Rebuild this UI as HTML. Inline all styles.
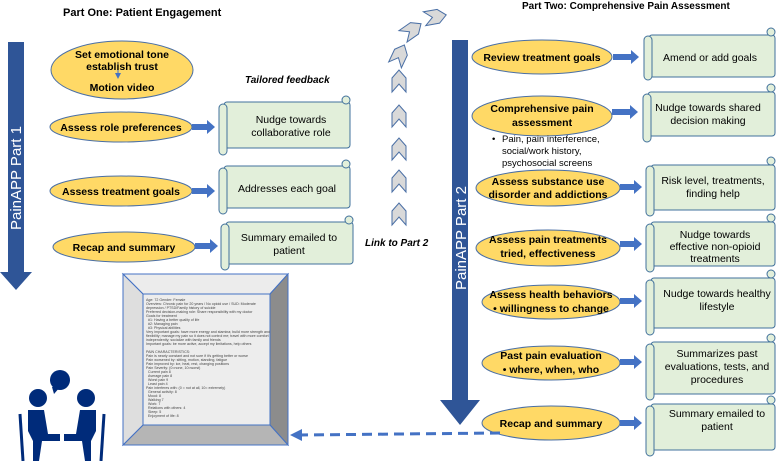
<!DOCTYPE html><html><head><style>body{margin:0;background:#fff}svg{display:block}text{font-family:"Liberation Sans",sans-serif}</style></head><body>
<svg width="780" height="461" viewBox="0 0 780 461" xmlns="http://www.w3.org/2000/svg">
<defs>
<marker id="ah" markerWidth="6" markerHeight="6" refX="4" refY="3" orient="auto"><path d="M0,0L6,3L0,6z" fill="#4472c4"/></marker>
<g id="chev"><path d="M0,8 L7,0 L14,8 L14,22 L7,14 L0,22Z" fill="#d9d9d9" stroke="#4a6fa5" stroke-width="1"/></g>
</defs>
<text x="63" y="16" font-size="11" font-weight="bold">Part One: Patient Engagement</text>
<text x="522" y="9" font-size="10" font-weight="bold">Part Two: Comprehensive Pain Assessment</text>
<path d="M8,42H24V272H32L16,290L0,272H8Z" fill="#2f5597"/>
<text transform="translate(21,230) rotate(-90)" font-size="15" fill="#fff">PainAPP  Part 1</text>
<path d="M452,40H468V400H480L460,425L440,400H452Z" fill="#2f5597"/>
<text transform="translate(466,290) rotate(-90)" font-size="15" fill="#fff">PainAPP  Part 2</text>
<g stroke="#4a6fa5" stroke-width="1" fill="#ffd966">
<ellipse cx="122" cy="70" rx="71" ry="29"/>
<ellipse cx="121" cy="127" rx="71" ry="15"/>
<ellipse cx="121" cy="191" rx="71" ry="15"/>
<ellipse cx="124" cy="247" rx="71" ry="15"/>
<ellipse cx="542" cy="57" rx="70" ry="17"/>
<ellipse cx="542" cy="116" rx="70" ry="20"/>
<ellipse cx="548" cy="188" rx="72" ry="18"/>
<ellipse cx="548" cy="248" rx="72" ry="18"/>
<ellipse cx="551" cy="302" rx="69" ry="17"/>
<ellipse cx="551" cy="363" rx="69" ry="17"/>
<ellipse cx="551" cy="423" rx="69" ry="17"/>
</g>
<line x1="118" y1="64" x2="118" y2="77" stroke="#4472c4" stroke-width="1" marker-end="url(#ah)"/>
<g font-size="10.5" font-weight="bold" text-anchor="middle">
<text x="122" y="58">Set emotional tone</text><text x="122" y="70">establish trust</text><text x="122" y="91">Motion video</text>
<text x="121" y="131">Assess role preferences</text>
<text x="121" y="195">Assess treatment goals</text>
<text x="124" y="251">Recap and summary</text>
<text x="542" y="61">Review treatment goals</text>
<text x="542" y="112">Comprehensive pain</text><text x="542" y="126">assessment</text>
<text x="548" y="185">Assess substance use</text><text x="548" y="198">disorder and addictions</text>
<text x="548" y="243">Assess pain treatments</text><text x="548" y="257">tried, effectiveness</text>
<text x="551" y="298">Assess health behaviors</text><text x="551" y="312">•   willingness to change</text>
<text x="551" y="359">Past pain evaluation</text><text x="551" y="373">•   where, when, who</text>
<text x="551" y="427">Recap and summary</text>
</g>
<g font-size="9.5"><text x="492" y="142">•</text><text x="502" y="142">Pain, pain  interference,</text><text x="502" y="154">social/work history,</text><text x="502" y="166">psychosocial screens</text></g>
<text x="245" y="83" font-size="10" font-weight="bold" font-style="italic">Tailored feedback</text>
<text x="365" y="246" font-size="10" font-weight="bold" font-style="italic">Link to Part 2</text>
<g fill="#4472c4">
<path d="M192,124h15v-4l8,7l-8,7v-4h-15z"/><path d="M192,188h15v-4l8,7l-8,7v-4h-15z"/><path d="M195,243h15v-4l8,7l-8,7v-4h-15z"/>
<path d="M613,54h18v-4l8,7l-8,7v-4h-18z"/><path d="M612,109h18v-4l8,7l-8,7v-4h-18z"/><path d="M620,184h14v-4l8,7l-8,7v-4h-14z"/>
<path d="M620,241h14v-4l8,7l-8,7v-4h-14z"/><path d="M620,298h14v-4l8,7l-8,7v-4h-14z"/><path d="M620,359h14v-4l8,7l-8,7v-4h-14z"/><path d="M620,420h14v-4l8,7l-8,7v-4h-14z"/>
</g>
<g fill="#e2efda" stroke="#41719c" stroke-width="1">
<rect x="224" y="102" width="126" height="46" rx="3"/><rect x="219" y="104" width="8" height="51" rx="4"/><circle cx="346" cy="100" r="4"/>
<rect x="224" y="166" width="126" height="42" rx="3"/><rect x="219" y="168" width="8" height="46" rx="4"/><circle cx="346" cy="164" r="4"/>
<rect x="226" y="222" width="127" height="42" rx="3"/><rect x="221" y="224" width="8" height="46" rx="4"/><circle cx="349" cy="220" r="4"/>
<rect x="649" y="35" width="126" height="42" rx="3"/><rect x="644" y="36" width="8" height="44" rx="4"/><circle cx="771" cy="32" r="4"/>
<rect x="648" y="92" width="127" height="44" rx="3"/><rect x="643" y="94" width="8" height="48" rx="4"/><circle cx="771" cy="88" r="4"/>
<rect x="651" y="165" width="124" height="45" rx="3"/><rect x="646" y="166" width="8" height="50" rx="4"/><circle cx="771" cy="161" r="4"/>
<rect x="651" y="222" width="124" height="44" rx="3"/><rect x="646" y="224" width="8" height="48" rx="4"/><circle cx="771" cy="218" r="4"/>
<rect x="651" y="278" width="124" height="50" rx="3"/><rect x="646" y="280" width="8" height="55" rx="4"/><circle cx="771" cy="274" r="4"/>
<rect x="651" y="342" width="124" height="52" rx="3"/><rect x="646" y="344" width="8" height="56" rx="4"/><circle cx="771" cy="338" r="4"/>
<rect x="651" y="404" width="124" height="46" rx="3"/><rect x="646" y="406" width="8" height="50" rx="4"/><circle cx="771" cy="400" r="4"/>
</g>
<g font-size="10.5" text-anchor="middle">
<text x="291" y="123">Nudge towards</text><text x="291" y="136">collaborative role</text>
<text x="287" y="192">Addresses each goal</text>
<text x="289" y="241">Summary emailed to</text><text x="289" y="254">patient</text>
<text x="710" y="61">Amend or add goals</text>
<text x="708" y="111">Nudge towards shared</text><text x="708" y="124">decision making</text>
<text x="713" y="184">Risk level, treatments,</text><text x="713" y="197">finding help</text>
<text x="715" y="238">Nudge towards</text><text x="715" y="250">effective non-opioid</text><text x="715" y="262">treatments</text>
<text x="717" y="297">Nudge towards healthy</text><text x="717" y="310">lifestyle</text>
<text x="717" y="357">Summarizes past</text><text x="717" y="370">evaluations, tests, and</text><text x="717" y="383">procedures</text>
<text x="717" y="417">Summary emailed to</text><text x="717" y="430">patient</text>
</g>
<use href="#chev" x="392" y="203"/><use href="#chev" x="392" y="170"/><use href="#chev" x="392" y="138"/><use href="#chev" x="392" y="105"/><use href="#chev" x="392" y="70"/>
<use href="#chev" transform="translate(398,42) rotate(25)"/><use href="#chev" transform="translate(417,18) rotate(55)"/><use href="#chev" transform="translate(445,8) rotate(80)"/>
<rect x="123" y="274" width="165" height="171" fill="#e7e6e6" stroke="#4472c4"/>
<path d="M123,274L143,294H270L288,274Z" fill="#ececec" stroke="#4472c4"/>
<path d="M288,274L270,294V425L288,445Z" fill="#8c8c8c" stroke="#4472c4"/>
<path d="M123,445L143,425H270L288,445Z" fill="#b5b5b5" stroke="#4472c4"/>
<path d="M123,274L143,294V425L123,445Z" fill="#dedede" stroke="#4472c4"/>
<rect x="143" y="294" width="127" height="131" fill="#ededed" stroke="#4472c4"/>
<g font-size="3.6" fill="#444">
<text x="146" y="301">Age: 72   Gender: Female</text><text x="146" y="305">Overview: Chronic pain for 20 years / No opioid use / SUD: Moderate</text><text x="146" y="309">depression / PTSD/Family history of suicide</text><text x="146" y="313">Preferred decision-making role: Share responsibility with my doctor</text><text x="146" y="317">Goals for treatment</text><text x="148" y="321">#1: Having a better quality of life</text><text x="148" y="325">#2: Managing pain</text><text x="148" y="329">#3: Physical abilities</text><text x="146" y="333">Very important goals: have more energy and stamina; build more strength and</text><text x="146" y="337">flexibility; manage my pain so it does not control me; travel with more comfort</text><text x="146" y="341">independently; socialize with family and friends</text><text x="146" y="345">Important goals: be more active, accept my limitations, help others</text>
<text x="146" y="353">PAIN CHARACTERISTICS:</text><text x="146" y="357">Pain is nearly constant and not sure if it's getting better or worse</text><text x="146" y="361">Pain worsened by: sitting, motion, standing, fatigue</text><text x="146" y="365">Pain improved by: ice, heat, rest, changing positions</text><text x="146" y="369">Pain Severity: (0=none, 10=worst)</text><text x="148" y="373">Current pain 8</text><text x="148" y="377">Average pain 8</text><text x="148" y="381">Worst pain 9</text><text x="148" y="385">Least pain 4</text><text x="146" y="389">Pain interferes with: (0 = not at all, 10= extremely)</text><text x="148" y="393">General activity: 8</text><text x="148" y="397">Mood: 8</text><text x="148" y="401">Walking 7</text><text x="148" y="405">Work: 7</text><text x="148" y="409">Relations with others: 4</text><text x="148" y="413">Sleep: 5</text><text x="148" y="417">Enjoyment of life: 8</text>
</g>
<line x1="500" y1="433" x2="300" y2="435" stroke="#4472c4" stroke-width="3" stroke-dasharray="10,6"/>
<path d="M290,435L302,429V441Z" fill="#4472c4"/>
<g fill="#002b7a" stroke="#002b7a">
<circle cx="60" cy="380" r="10" stroke="none"/>
<path d="M52,387h8l-6,7z" stroke="none"/>
<circle cx="38" cy="398" r="9" stroke="none"/><circle cx="86" cy="398" r="9" stroke="none"/>
<path d="M28,410h16l4,24h12v7h-18l-3,20h-6v-20l-5-10z" stroke="none"/>
<path d="M96,410h-16l-4,24h-12v7h18l3,20h6v-20l5-10z" stroke="none"/>
<line x1="20" y1="414" x2="23" y2="461" stroke-width="3" fill="none"/>
<line x1="104" y1="414" x2="101" y2="461" stroke-width="3" fill="none"/>
</g>
</svg>
</body></html>
